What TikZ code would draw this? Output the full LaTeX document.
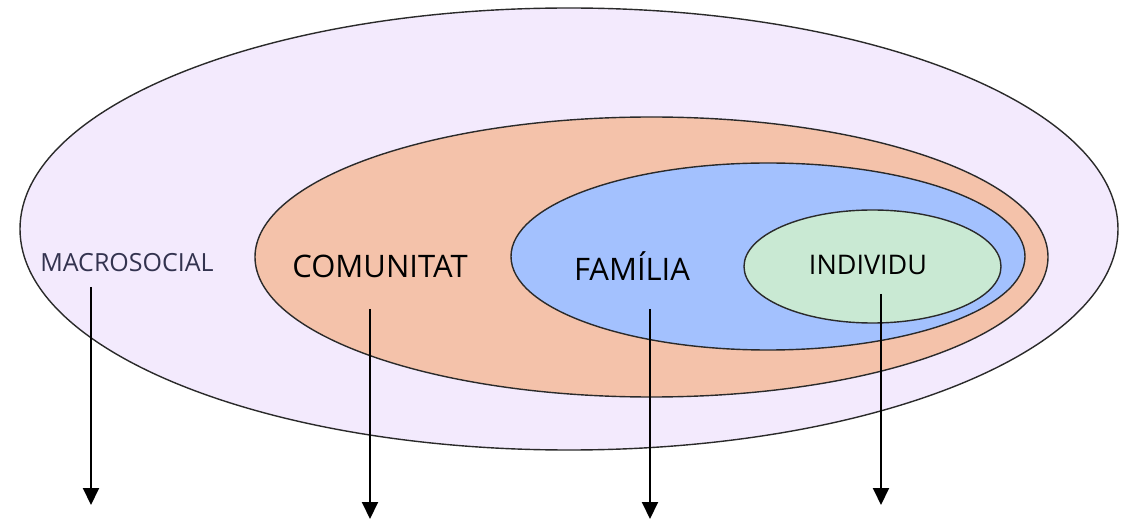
\documentclass[tikz,border=0pt]{standalone}
\usepackage{fontspec}
\setmainfont{Open Sans}
\usetikzlibrary{arrows.meta}
\definecolor{outerc}{HTML}{F3EAFD}
\definecolor{comc}{HTML}{F4C2AA}
\definecolor{famc}{HTML}{A3C1FE}
\definecolor{indc}{HTML}{C9E9D3}
\definecolor{linec}{HTML}{2A2A2A}
\definecolor{macroc}{HTML}{33334F}
\tikzset{
  ring/.style={draw=linec, line width=1.4pt},
  lbl/.style={inner sep=0pt, anchor=center},
  down/.style={-{Triangle[width=16pt,length=17pt]}, line width=2pt, black}
}
\begin{document}
\begin{tikzpicture}[x=1pt,y=-1pt]
\useasboundingbox (0,0) rectangle (1125,521);
\draw[ring, fill=outerc] (569,229) ellipse [x radius=549, y radius=221];
\draw[ring, fill=comc] (651.5,257) ellipse [x radius=396.5, y radius=140];
\draw[ring, fill=famc] (768,256.5) ellipse [x radius=257, y radius=93.5];
\draw[ring, fill=indc] (872.5,266.5) ellipse [x radius=128.5, y radius=56.5];
\node[lbl, text=macroc, font=\fontsize{25}{29}\selectfont] (macro) at (127,263) {MACROSOCIAL};
\node[lbl, font=\fontsize{31}{36}\selectfont] (com) at (380,266) {COMUNITAT};
\node[lbl, font=\fontsize{31}{36}\selectfont] (fam) at (632,266) {FAMÍLIA};
\node[lbl, font=\fontsize{27}{31}\selectfont] (ind) at (868,265) {INDIVIDU};
\coordinate (a1s) at (91,287); \coordinate (a1e) at (91,505);
\coordinate (a2s) at (370,309); \coordinate (a2e) at (370,519);
\coordinate (a3s) at (650,309); \coordinate (a3e) at (650,519);
\coordinate (a4s) at (881,294); \coordinate (a4e) at (881,505);
\draw[down] (a1s) -- (a1e);
\draw[down] (a2s) -- (a2e);
\draw[down] (a3s) -- (a3e);
\draw[down] (a4s) -- (a4e);
\end{tikzpicture}
\end{document}
